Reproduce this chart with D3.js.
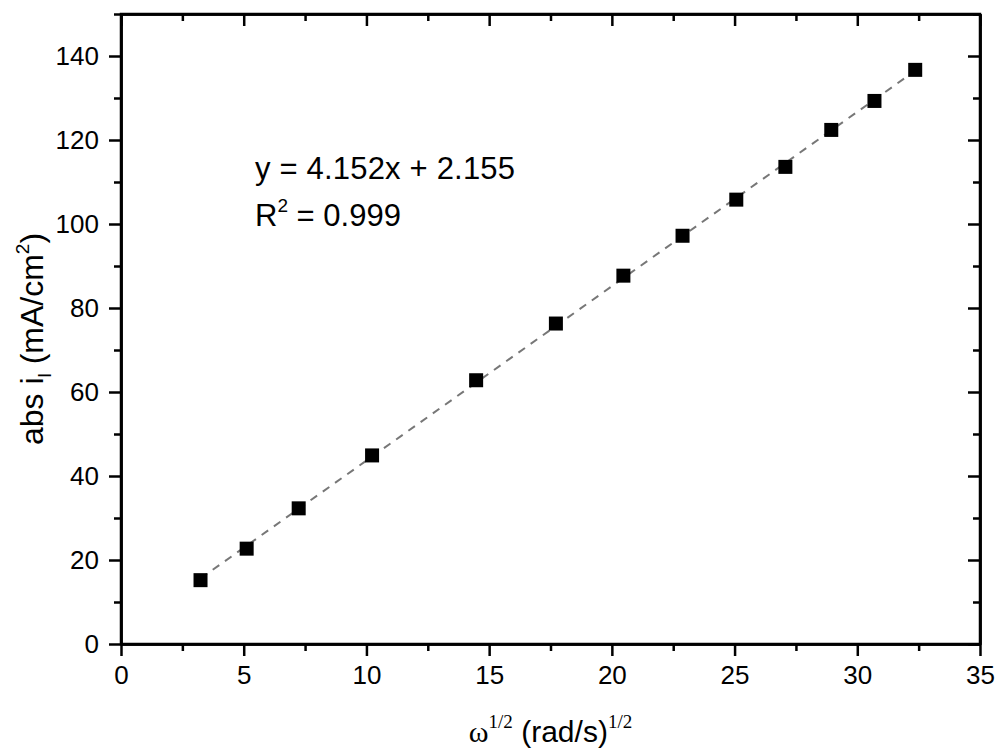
<!DOCTYPE html>
<html>
<head>
<meta charset="utf-8">
<script src="https://cdn.jsdelivr.net/npm/d3@7/dist/d3.min.js"></script>
<style>
  html, body { margin: 0; padding: 0; background: #fff; }
  svg { display: block; }
  text { font-family: "Liberation Sans", Arial, sans-serif; fill: #000; }
</style>
</head>
<body>
<svg id="chart" width="1006" height="754"></svg>
<script>
// ---- data ----
const omegaSqrt = [3.24, 5.12, 7.24, 10.23, 14.47, 17.72, 20.47, 22.88, 25.07, 27.07, 28.94, 30.70, 32.36];
const absIl     = [15.2, 22.7, 32.3, 44.9, 62.8, 76.3, 87.7, 97.2, 105.8, 113.6, 122.4, 129.3, 136.7];
const fitX = [3.24, 32.36];
const fitY = [15.6, 136.5];
const xTicks = [0, 5, 10, 15, 20, 25, 30, 35];
const xMinorTicks = [2.5, 7.5, 12.5, 17.5, 22.5, 27.5, 32.5];
const yTicks = [0, 20, 40, 60, 80, 100, 120, 140];
const yMinorTicks = [10, 30, 50, 70, 90, 110, 130, 150];
const equationLines = ["y = 4.152x + 2.155", "R2 = 0.999"];

// ---- layout ----
const L = 121, R = 980, T = 14, B = 644;
const svg = d3.select("#chart");
const x = d3.scaleLinear().domain([0, 35]).range([L, R]);
const y = d3.scaleLinear().domain([0, 150]).range([B, T]);

const major = 12, minor = 7, sw = 2.5;

// fit line (dashed)
svg.append("line")
  .attr("x1", x(fitX[0])).attr("y1", y(fitY[0]))
  .attr("x2", x(fitX[1])).attr("y2", y(fitY[1]))
  .attr("stroke", "#777").attr("stroke-width", 2)
  .attr("stroke-dasharray", "8,7");

// markers
const ms = 14;
svg.append("g").selectAll("rect")
  .data(omegaSqrt.map((v, i) => [v, absIl[i]]))
  .join("rect")
  .attr("x", d => x(d[0]) - ms / 2)
  .attr("y", d => y(d[1]) - ms / 2)
  .attr("width", ms).attr("height", ms)
  .attr("fill", "#000");

// axes: bottom (outward ticks)
const bottom = svg.append("g").attr("transform", `translate(0,${B})`)
  .call(d3.axisBottom(x).tickValues(xTicks).tickSize(major).tickSizeOuter(0).tickPadding(10).tickFormat(d3.format("d")));
svg.append("g").attr("transform", `translate(0,${B})`)
  .call(d3.axisBottom(x).tickValues(xMinorTicks).tickSize(minor).tickSizeOuter(0).tickFormat(""));
// left (outward)
const left = svg.append("g").attr("transform", `translate(${L},0)`)
  .call(d3.axisLeft(y).tickValues(yTicks).tickSize(major).tickSizeOuter(0).tickPadding(10).tickFormat(d3.format("d")));
svg.append("g").attr("transform", `translate(${L},0)`)
  .call(d3.axisLeft(y).tickValues(yMinorTicks).tickSize(minor).tickSizeOuter(0).tickFormat(""));
// top (inward)
svg.append("g").attr("transform", `translate(0,${T})`)
  .call(d3.axisTop(x).tickValues(xTicks).tickSize(-major).tickSizeOuter(0).tickFormat(""));
svg.append("g").attr("transform", `translate(0,${T})`)
  .call(d3.axisTop(x).tickValues(xMinorTicks).tickSize(-minor).tickSizeOuter(0).tickFormat(""));
// right (inward)
svg.append("g").attr("transform", `translate(${R},0)`)
  .call(d3.axisRight(y).tickValues(yTicks).tickSize(-major).tickSizeOuter(0).tickFormat(""));
svg.append("g").attr("transform", `translate(${R},0)`)
  .call(d3.axisRight(y).tickValues(yMinorTicks).tickSize(-minor).tickSizeOuter(0).tickFormat(""));

svg.selectAll(".domain").attr("stroke", "#000").attr("stroke-width", sw);
svg.selectAll(".tick line").attr("stroke", "#000").attr("stroke-width", sw);
svg.selectAll(".tick text")
  .attr("font-family", '"Liberation Sans", Arial, sans-serif')
  .attr("font-size", 26).attr("fill", "#000");
bottom.selectAll(".tick text").attr("dy", "0.71em");

// frame to ensure corners are crisp
svg.append("rect").attr("x", L).attr("y", T).attr("width", R - L).attr("height", B - T)
  .attr("fill", "none").attr("stroke", "#000").attr("stroke-width", sw);

// equation text
const eq = svg.append("g").attr("font-size", 31);
eq.append("text").attr("x", 255).attr("y", 179).attr("textLength", 260).text(equationLines[0]);
const r2 = eq.append("text").attr("x", 255).attr("y", 226);
r2.append("tspan").text("R");
r2.append("tspan").attr("font-size", 19).attr("dy", -14).text("2");
r2.append("tspan").attr("dy", 14).text(" = 0.999");

// x axis title
const xt = svg.append("text").attr("x", (L + R) / 2).attr("y", 742)
  .attr("text-anchor", "middle").attr("font-size", 30);
xt.append("tspan").attr("font-family", '"Liberation Serif", "Times New Roman", serif').text("ω");
xt.append("tspan").attr("font-family", '"Liberation Serif", "Times New Roman", serif')
  .attr("font-size", 19).attr("dy", -14).text("1/2");
xt.append("tspan").attr("dy", 14).text(" (rad/s)");
xt.append("tspan").attr("font-family", '"Liberation Serif", "Times New Roman", serif')
  .attr("font-size", 19).attr("dy", -14).text("1/2");

// y axis title
const yt = svg.append("text")
  .attr("transform", `translate(43,339) rotate(-90)`)
  .attr("text-anchor", "middle").attr("font-size", 32);
yt.append("tspan").text("abs i");
yt.append("tspan").attr("font-size", 19).attr("dy", 8).text("l");
yt.append("tspan").attr("dy", -8).text(" (mA/cm");
yt.append("tspan").attr("font-size", 19).attr("dy", -14).text("2");
yt.append("tspan").attr("dy", 14).text(")");
</script>
</body>
</html>
